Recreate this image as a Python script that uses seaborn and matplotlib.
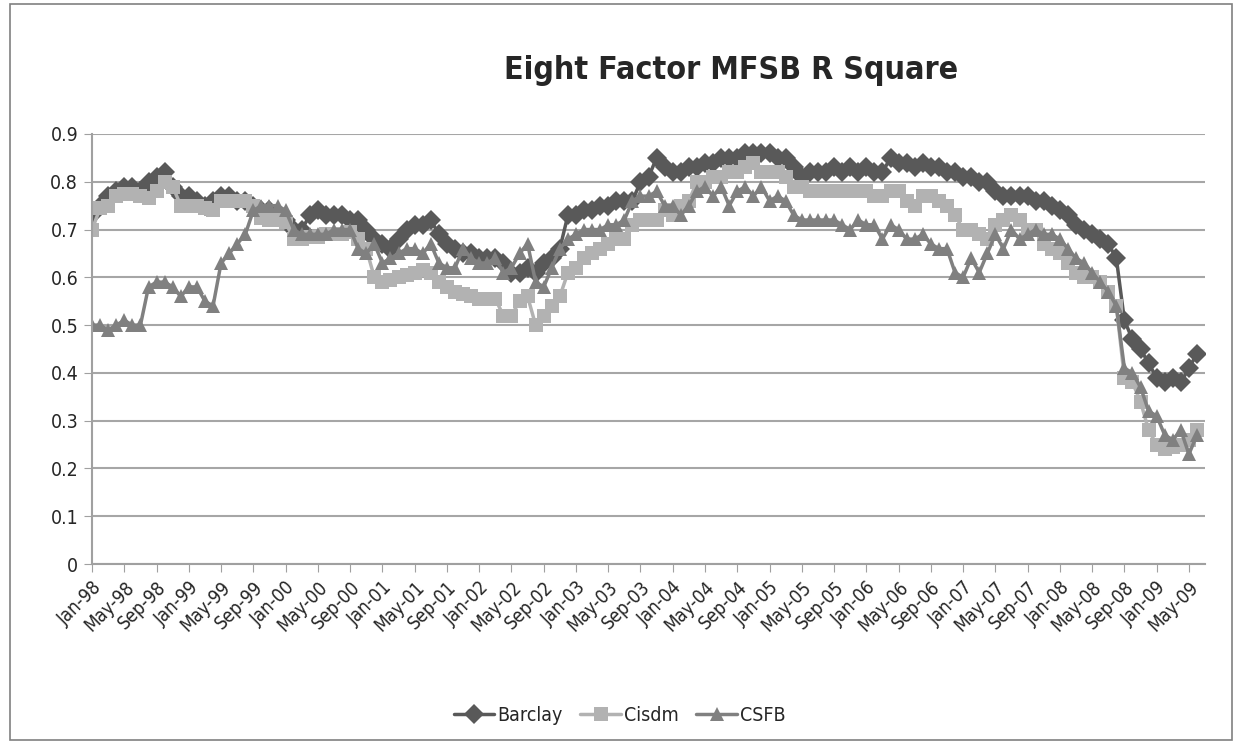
import seaborn as sns
import pandas as pd
import matplotlib.pyplot as plt
from matplotlib.patches import Rectangle

# monthly values Jan-98 .. Jun-09
barclay = [
    0.73, 0.75, 0.77, 0.78, 0.79, 0.79, 0.78, 0.80, 0.81, 0.82, 0.79, 0.77,
    0.77, 0.76, 0.75, 0.76, 0.77, 0.77, 0.76, 0.76, 0.75, 0.74, 0.74, 0.73,
    0.72, 0.70, 0.70, 0.73, 0.74, 0.73, 0.73, 0.73, 0.72, 0.72, 0.70, 0.68,
    0.67, 0.66, 0.68, 0.70, 0.71, 0.71, 0.72, 0.69, 0.67, 0.66, 0.65, 0.65,
    0.64, 0.64, 0.64, 0.63, 0.61, 0.61, 0.62, 0.61, 0.63, 0.64, 0.66, 0.73,
    0.73, 0.74, 0.74, 0.75, 0.75, 0.76, 0.76, 0.76, 0.80, 0.81, 0.85, 0.83,
    0.82, 0.82, 0.83, 0.83, 0.84, 0.84, 0.85, 0.85, 0.85, 0.86, 0.86, 0.86,
    0.86, 0.85, 0.85, 0.83, 0.81, 0.82, 0.82, 0.82, 0.83, 0.82, 0.83, 0.82,
    0.83, 0.82, 0.82, 0.85, 0.84, 0.84, 0.83, 0.84, 0.83, 0.83, 0.82, 0.82,
    0.81, 0.81, 0.80, 0.80, 0.78, 0.77, 0.77, 0.77, 0.77, 0.76, 0.76, 0.75,
    0.74, 0.73, 0.71, 0.70, 0.69, 0.68, 0.67, 0.64, 0.51, 0.47, 0.45, 0.42,
    0.39, 0.38, 0.39, 0.38, 0.41, 0.44,
]
cisdm = [
    0.70, 0.745, 0.75, 0.77, 0.775, 0.775, 0.77, 0.765, 0.78, 0.80, 0.79, 0.75,
    0.75, 0.75, 0.745, 0.74, 0.76, 0.76, 0.76, 0.76, 0.75, 0.725, 0.72, 0.72,
    0.715, 0.68, 0.68, 0.685, 0.685, 0.69, 0.69, 0.69, 0.695, 0.68, 0.66, 0.60,
    0.59, 0.595, 0.60, 0.605, 0.61, 0.615, 0.61, 0.59, 0.58, 0.57, 0.565, 0.56,
    0.555, 0.555, 0.555, 0.52, 0.52, 0.55, 0.56, 0.50, 0.52, 0.54, 0.56, 0.61,
    0.62, 0.64, 0.65, 0.66, 0.67, 0.68, 0.68, 0.71, 0.72, 0.72, 0.72, 0.74,
    0.73, 0.75, 0.76, 0.80, 0.80, 0.81, 0.81, 0.82, 0.82, 0.83, 0.84, 0.82,
    0.82, 0.82, 0.81, 0.79, 0.79, 0.78, 0.78, 0.78, 0.78, 0.78, 0.78, 0.78,
    0.78, 0.77, 0.77, 0.78, 0.78, 0.76, 0.75, 0.77, 0.77, 0.76, 0.75, 0.73,
    0.70, 0.70, 0.69, 0.68, 0.71, 0.72, 0.73, 0.72, 0.70, 0.70, 0.67, 0.66,
    0.65, 0.63, 0.61, 0.60, 0.60, 0.59, 0.57, 0.54, 0.39, 0.38, 0.34, 0.28,
    0.25, 0.24, 0.245, 0.25, 0.26, 0.28,
]
csfb = [
    0.50, 0.50, 0.49, 0.50, 0.51, 0.50, 0.50, 0.58, 0.59, 0.59, 0.58, 0.56,
    0.58, 0.58, 0.55, 0.54, 0.63, 0.65, 0.67, 0.69, 0.74, 0.75, 0.75, 0.75,
    0.74, 0.70, 0.69, 0.69, 0.69, 0.69, 0.70, 0.70, 0.70, 0.66, 0.65, 0.67,
    0.63, 0.64, 0.65, 0.66, 0.66, 0.65, 0.67, 0.63, 0.62, 0.62, 0.66, 0.64,
    0.63, 0.63, 0.64, 0.61, 0.62, 0.65, 0.67, 0.59, 0.58, 0.62, 0.66, 0.68,
    0.69, 0.70, 0.70, 0.70, 0.71, 0.71, 0.72, 0.76, 0.77, 0.77, 0.78, 0.75,
    0.75, 0.73, 0.75, 0.78, 0.79, 0.77, 0.79, 0.75, 0.78, 0.79, 0.77, 0.79,
    0.76, 0.77, 0.76, 0.73, 0.72, 0.72, 0.72, 0.72, 0.72, 0.71, 0.70, 0.72,
    0.71, 0.71, 0.68, 0.71, 0.70, 0.68, 0.68, 0.69, 0.67, 0.66, 0.66, 0.61,
    0.60, 0.64, 0.61, 0.65, 0.69, 0.66, 0.70, 0.68, 0.69, 0.70, 0.69, 0.69,
    0.68, 0.66, 0.64, 0.63, 0.61, 0.59, 0.57, 0.54, 0.41, 0.40, 0.37, 0.32,
    0.31, 0.27, 0.26, 0.28, 0.23, 0.27,
]
series_names = ['Barclay', 'Cisdm', 'CSFB']
months = pd.date_range('1998-01-01', periods=len(barclay), freq='MS')

df = pd.concat([
    pd.DataFrame({'month': range(len(v)), 'value': v, 'series': name})
    for name, v in zip(series_names, [barclay, cisdm, csfb])
])

sns.set_style('white')
plt.rcParams['font.family'] = ['DejaVu Sans']
plt.rcParams['font.stretch'] = 'condensed'

fig = plt.figure(figsize=(12.39, 7.44), dpi=100)
ax = fig.add_axes([0.0743, 0.2419, 0.8983, 0.578])

sns.lineplot(data=df, x='month', y='value', hue='series', style='series',
             hue_order=series_names, style_order=series_names,
             palette={'Barclay': '#595959', 'Cisdm': '#b2b2b2', 'CSFB': '#808080'},
             markers={'Barclay': 'D', 'Cisdm': 's', 'CSFB': '^'},
             dashes=False, linewidth=2.5, markersize=10.5, markeredgewidth=0,
             ax=ax)

ax.set_xlim(0, 138)
ax.set_ylim(0, 0.9)
ax.set_yticks([i / 10 for i in range(10)])
ax.set_yticklabels(['0'] + [f'{i / 10:.1f}' for i in range(1, 10)], fontsize=14)
tick_pos = list(range(0, len(months), 4))
ax.set_xticks(tick_pos)
ax.set_xticklabels([months[i].strftime('%b-%y') for i in tick_pos],
                   rotation=45, ha='right', rotation_mode='anchor', fontsize=13.5)
ax.tick_params(axis='both', direction='out', length=6, color='#a0a0a0',
               bottom=True, left=True, pad=4)
ax.set_xlabel('')
ax.set_ylabel('')
ax.grid(True, axis='y', color='#a6a6a6', linewidth=1.5)
ax.set_axisbelow(True)
for side in ['top', 'right']:
    ax.spines[side].set_visible(False)
for side in ['left', 'bottom']:
    ax.spines[side].set_color('#a0a0a0')
    ax.spines[side].set_linewidth(1.5)

handles, labels = ax.get_legend_handles_labels()
ax.legend(handles, labels, loc='center', bbox_to_anchor=(0.5, 0.038),
          bbox_transform=fig.transFigure, ncol=3, frameon=False,
          fontsize=14, handlelength=2.1, handletextpad=0.15, columnspacing=0.9)

fig.text(0.59, 0.905, 'Eight Factor MFSB R Square', ha='center', va='center',
         fontsize=23, fontweight='bold')

fig.patches.append(Rectangle((0.008, 0.005), 0.986, 0.99, transform=fig.transFigure,
                             fill=False, edgecolor='#808080', linewidth=1.2))

fig.savefig('out.png', dpi=100)
